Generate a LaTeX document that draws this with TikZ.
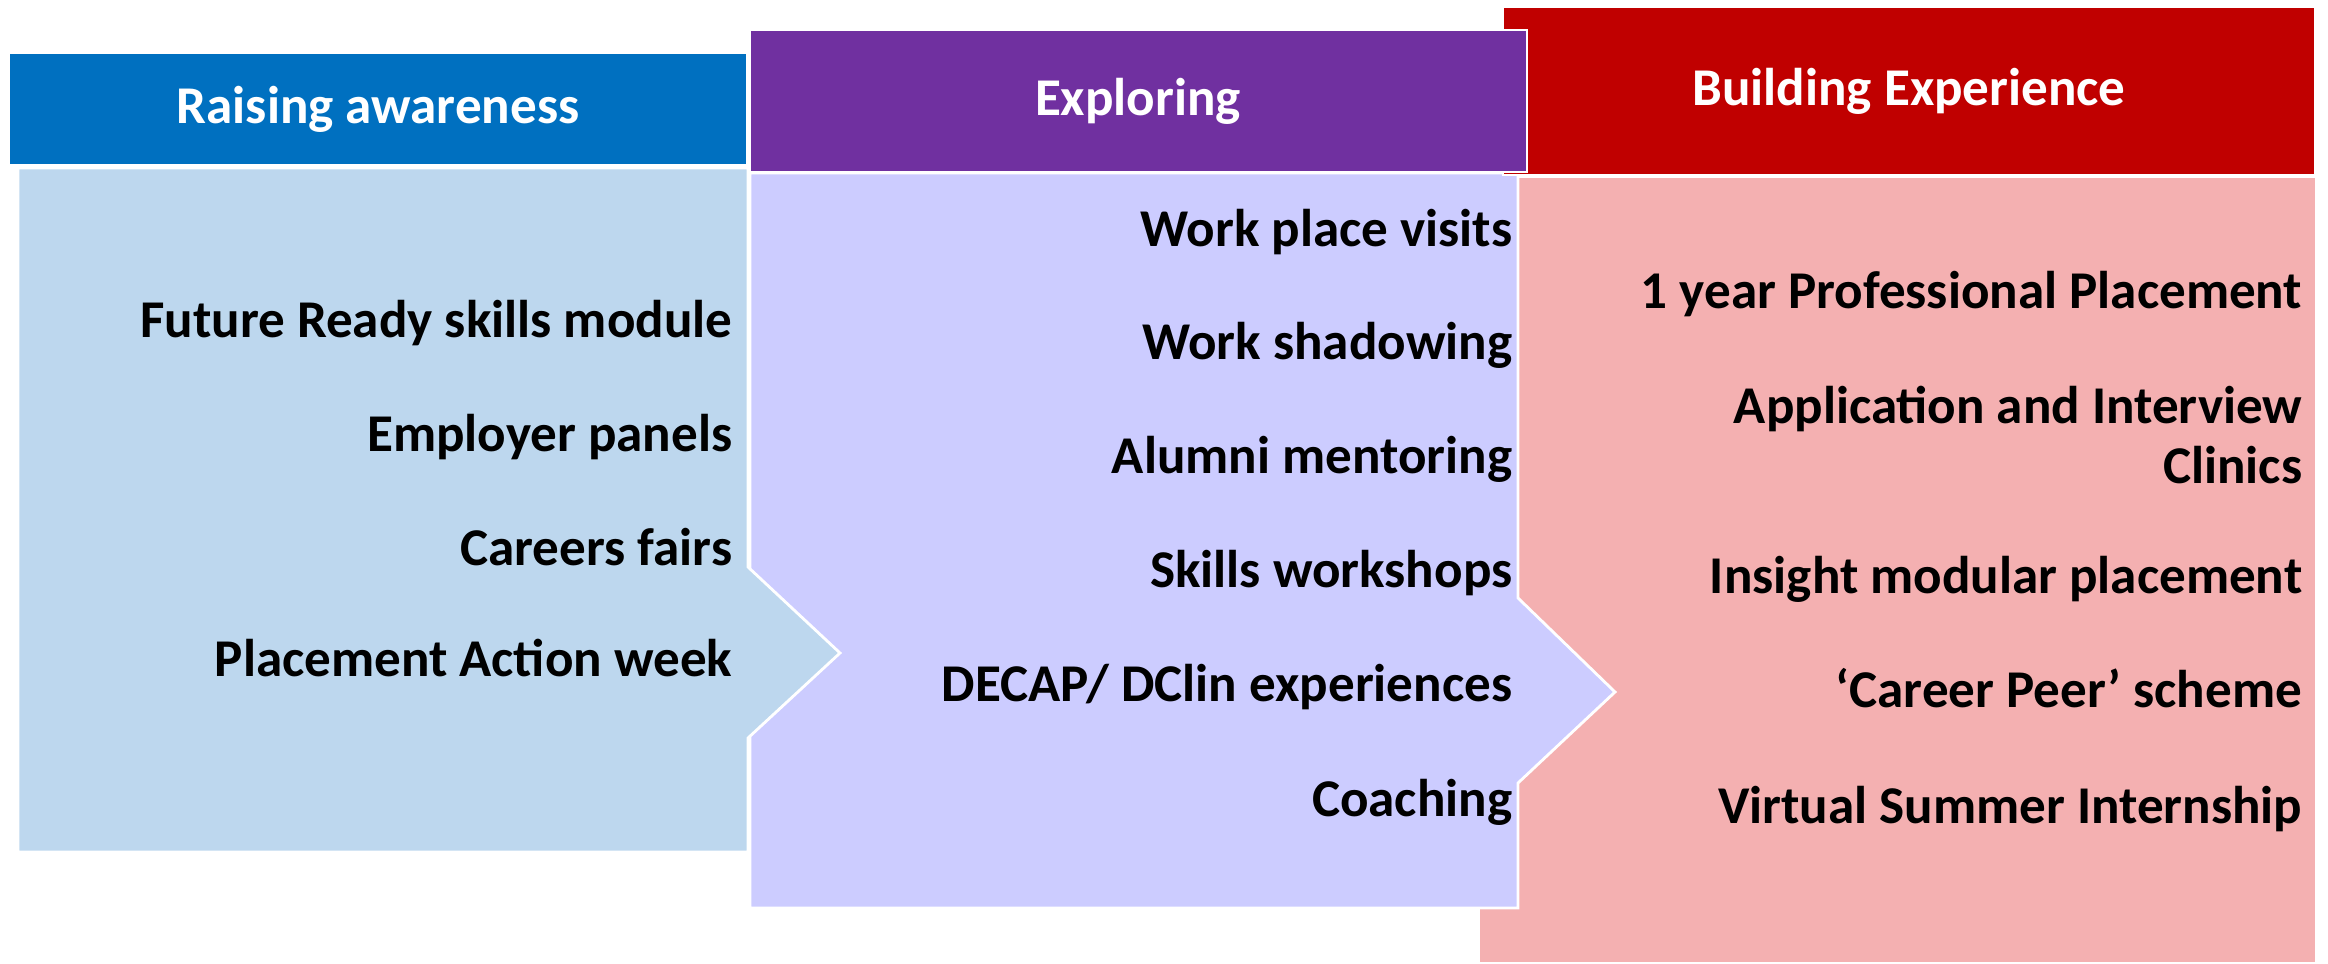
\documentclass[tikz,border=0pt]{standalone}
\usepackage{fontspec}
\setmainfont{Carlito}
\definecolor{hblue}{HTML}{0070C0}
\definecolor{hpurple}{HTML}{7030A0}
\definecolor{hred}{HTML}{C00000}
\definecolor{bblue}{HTML}{BDD7EE}
\definecolor{bpurple}{HTML}{CCCCFF}
\definecolor{bred}{HTML}{F4B0B1}
\tikzset{
  panel/.style={draw=white, line width=0.8pt},
  head/.style={font=\fontsize{15.1}{17.5}\selectfont\bfseries, text=white, inner sep=0pt},
  item/.style={font=\fontsize{15.1}{17.3}\selectfont\bfseries, text=black, inner sep=0pt},
}
\begin{document}
\begin{tikzpicture}[x=0.01cm,y=-0.01cm]
\useasboundingbox (0,0) rectangle (2328,964);
% bodies
\fill[bred] (1480,178) rectangle (2315,962);
\filldraw[panel, fill=bpurple] (750,173) -- (1518,173) -- (1518,598) -- (1615,692) -- (1518,783) -- (1518,908) -- (750,908) -- cycle;
\filldraw[panel, fill=bblue] (18,168) -- (748,168) -- (748,567) -- (840,653) -- (748,738) -- (748,852) -- (18,852) -- cycle;
% headers
\filldraw[panel, fill=hred] (1503,7) rectangle (2315,175);
\filldraw[panel, fill=hpurple] (750,30) rectangle (1527,172);
\filldraw[panel, fill=hblue] (9,53) rectangle (747,165);
% header texts
\node[head, anchor=base] (h1) at (378,124) {Raising awareness};
\node[head, anchor=base] (h2) at (1138,116) {Exploring};
\node[head, anchor=base] (h3) at (1909,106) {Building Experience};
% left items
\node[item, anchor=base east] (a1) at (733,338) {Future Ready skills module};
\node[item, anchor=base east] (a2) at (733,452) {Employer panels};
\node[item, anchor=base east] (a3) at (733,565) {Careers fairs};
\node[item, anchor=base east] (a4) at (733,676) {Placement Action week};
% middle items
\node[item, anchor=base east] (b1) at (1513,247) {Work place visits};
\node[item, anchor=base east] (b2) at (1513,360) {Work shadowing};
\node[item, anchor=base east] (b3) at (1513,473) {Alumni mentoring};
\node[item, anchor=base east] (b4) at (1513,587) {Skills workshops};
\node[item, anchor=base east] (b5) at (1513,701) {DECAP/ DClin experiences};
\node[item, anchor=base east] (b6) at (1513,816) {Coaching};
% right items
\node[item, anchor=base east] (c1) at (2303,309) {1 year Professional Placement};
\node[item, anchor=east, align=right] (c2) at (2303,435) {Application and Interview\\Clinics};
\node[item, anchor=base east] (c3) at (2303,593) {Insight modular placement};
\node[item, anchor=base east] (c4) at (2303,707) {‘Career Peer’ scheme};
\node[item, anchor=base east] (c5) at (2303,823) {Virtual Summer Internship};
\end{tikzpicture}
\end{document}
